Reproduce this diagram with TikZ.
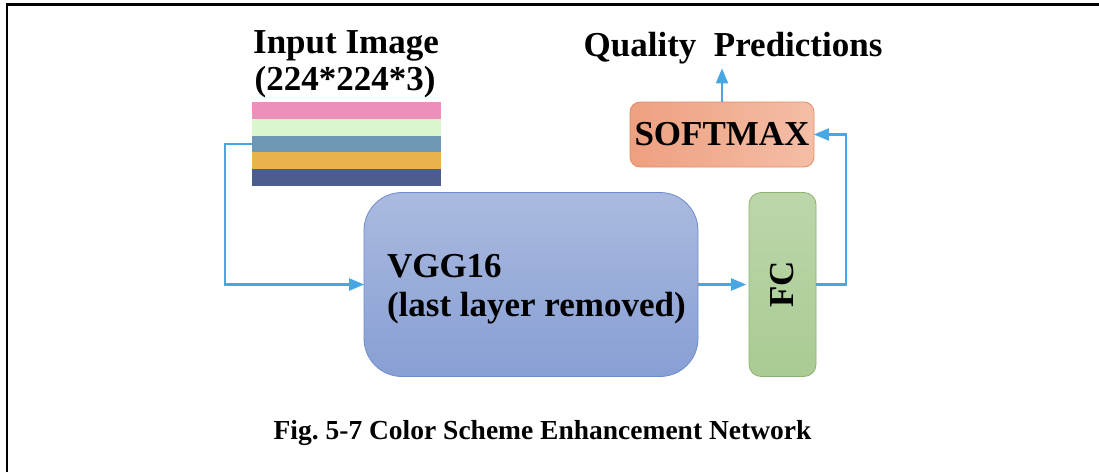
\documentclass[tikz,border=0pt]{standalone}
\usepackage{fontspec}
\setmainfont{Liberation Serif}
\usetikzlibrary{shapes,arrows}
\definecolor{flowBlue}{RGB}{72,166,228}
\definecolor{barPink}{RGB}{236,143,186}
\definecolor{barGreen}{RGB}{218,246,206}
\definecolor{barSteel}{RGB}{111,152,180}
\definecolor{barOrange}{RGB}{234,178,76}
\definecolor{barNavy}{RGB}{74,93,140}
\definecolor{vggTop}{RGB}{170,186,223}
\definecolor{vggBottom}{RGB}{136,159,212}
\definecolor{vggLine}{RGB}{108,140,205}
\definecolor{fcTop}{RGB}{188,214,170}
\definecolor{fcBottom}{RGB}{170,203,148}
\definecolor{fcLine}{RGB}{140,178,112}
\definecolor{smLeft}{RGB}{238,160,128}
\definecolor{smRight}{RGB}{244,190,166}
\definecolor{smLine}{RGB}{226,140,100}

\begin{document}
\begin{tikzpicture}[x=1pt, y=-1pt]%
  \tikzset{flow arrow/.style={draw,-triangle 45,line width=2.5pt,flowBlue}}
  \tikzstyle{every node}=[draw=none, text=black, outer sep=0pt, inner sep=0pt, font=\fontsize{35}{39}\selectfont\bfseries]
  \tikzstyle{block}=[rectangle, line width=0.8pt]

  \useasboundingbox (0,0) rectangle (1099,472);
  \draw[line width=2.2pt] (7,472) -- (7,4.5) -- (1099,4.5);

  % input image
  \node[anchor=base] (inTitle) at (346,53) {Input Image};
  \node[anchor=base] (inSize) at (345,90) {(224*224*3)};
  \foreach \c [count=\i] in {barPink,barGreen,barSteel,barOrange,barNavy}
    \node[fill=\c, minimum width=189pt, minimum height=16.8pt] (bar\i) at (346.5,{102+(\i-0.5)*16.8}) {};

  \node[block, draw=vggLine, top color=vggTop, bottom color=vggBottom, rounded corners=38pt,
        minimum width=334pt, minimum height=184pt] (vgg) at (531,284.5) {};
  \node[anchor=west, align=left] (vggText) at ([xshift=23pt,yshift=-5pt]vgg.west) {VGG16\\(last layer removed)};
  \node[block, draw=fcLine, top color=fcTop, bottom color=fcBottom, rounded corners=12pt,
        minimum width=67pt, minimum height=184pt] (fc) at (782.5,284.5) {\rotatebox{90}{FC}};
  \node[block, draw=smLine, left color=smLeft, right color=smRight, rounded corners=10pt,
        minimum width=184pt, minimum height=65pt] (softmax) at (722,134.5) {SOFTMAX};
  \node[anchor=base] (quality) at (733,56) {Quality\ \ Predictions};

  \draw[flow arrow] (bar3.west) -- ++(-27,0) |- (vgg.west);
  \path[flow arrow, shorten >=3pt] (vgg) edge (fc);
  \draw[flow arrow] (fc.east) -- ++(30,0) |- (softmax.east);
  \draw[flow arrow, shorten >=5pt] (softmax.north) -- (softmax.north |- quality.south);

  \node[anchor=base, font=\fontsize{27.5}{30}\selectfont\bfseries] (caption) at (542.5,439) {Fig.\ 5-7 Color Scheme Enhancement Network};
\end{tikzpicture}
\end{document}
